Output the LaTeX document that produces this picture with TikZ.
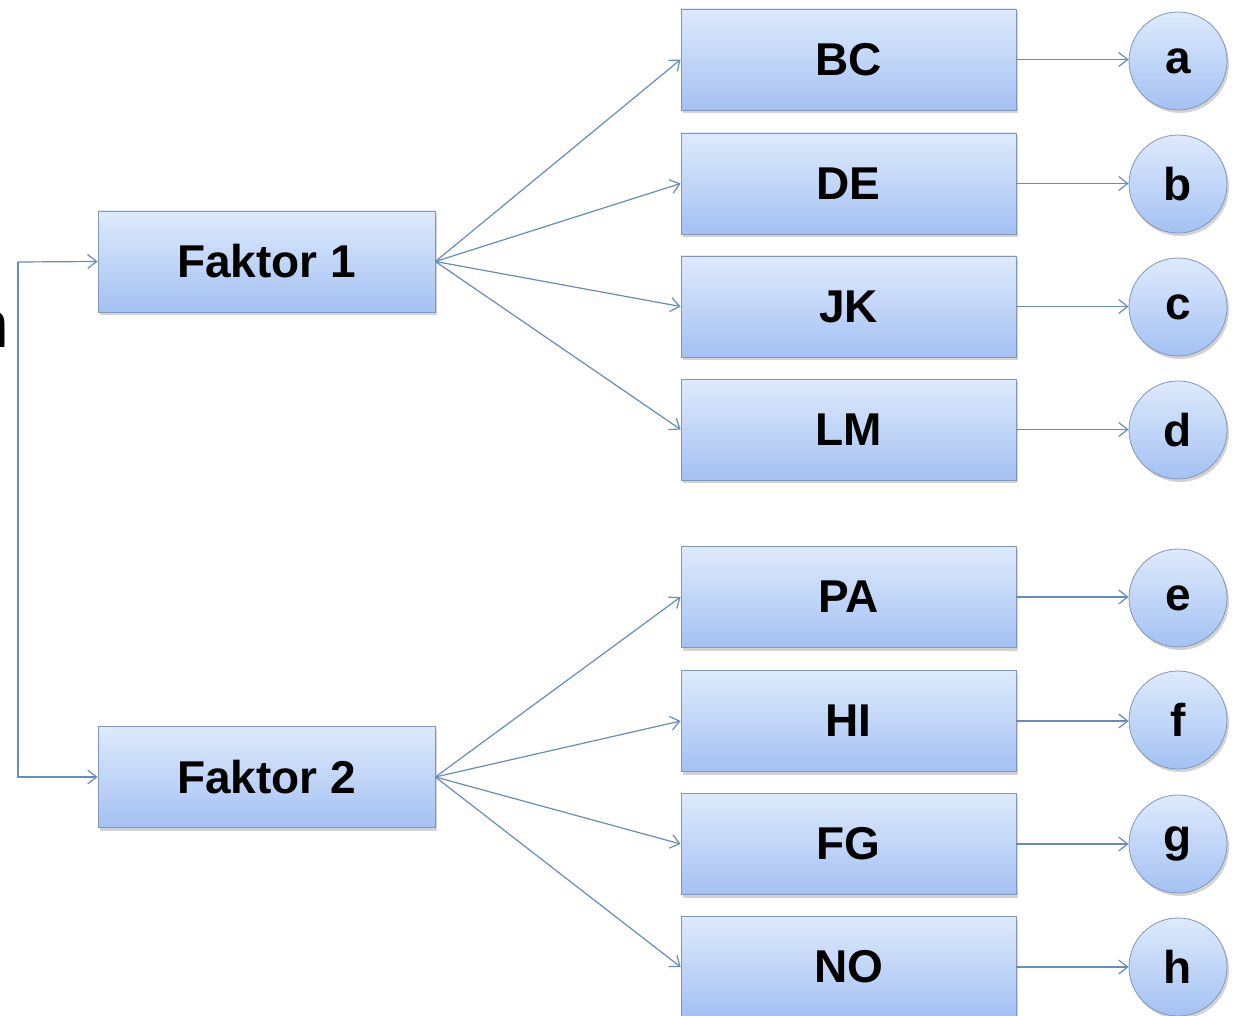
\documentclass[tikz,border=0pt]{standalone}
\usepackage{fontspec}
\setmainfont{Liberation Sans}
\usetikzlibrary{shadows,arrows.meta}
\definecolor{boxtop}{RGB}{222,234,252}
\definecolor{boxbot}{RGB}{164,193,243}
\definecolor{boxedge}{RGB}{130,150,185}
\definecolor{linkc}{RGB}{100,140,190}
\tikzset{
  every picture/.style={x=1pt,y=-1pt},
  fbox/.style={draw=boxedge, line width=0.8pt, top color=boxtop, bottom color=boxbot,
    minimum width=337pt, minimum height=101pt, inner sep=0pt,
    font=\fontsize{46}{46}\selectfont\bfseries,
    drop shadow={shadow xshift=2pt, shadow yshift=-3pt, opacity=0.35}},
  rbox/.style={fbox, minimum width=335pt},
  rcirc/.style={circle, draw=boxedge, line width=0.8pt, top color=boxtop, bottom color=boxbot,
    minimum size=98pt, inner sep=0pt, font=\fontsize{46}{46}\selectfont\bfseries,
    drop shadow={shadow xshift=2pt, shadow yshift=-3pt, opacity=0.35}},
  link/.style={draw=linkc, line width=1.2pt, -{Straight Barb[length=9pt,width=14pt,line width=1.2pt]}}
}
\begin{document}
\begin{tikzpicture}
\useasboundingbox (0,0) rectangle (1236,1016);
\node[font=\fontsize{66}{66}\selectfont, anchor=east, inner sep=0pt] (frag) at (9,330) {n};
\node[fbox] (f1) at (266.5,261.5) {Faktor 1};
\node[fbox] (f2) at (266.5,777) {Faktor 2};
\node[rbox] (bc) at (848.5,59.5) {BC};
\node[rbox] (de) at (848.5,183.5) {DE};
\node[rbox] (jk) at (848.5,306.5) {JK};
\node[rbox] (lm) at (848.5,429.5) {LM};
\node[rbox] (pa) at (848.5,597) {PA};
\node[rbox] (hi) at (848.5,721) {HI};
\node[rbox] (fg) at (848.5,844) {FG};
\node[rbox] (no) at (848.5,967) {NO};
\node[rcirc] (a) at (1178,61) {a};
\node[rcirc] (b) at (1178,184) {b};
\node[rcirc] (c) at (1178,307) {c};
\node[rcirc] (d) at (1178,430) {d};
\node[rcirc] (e) at (1178,598) {e};
\node[rcirc] (f) at (1178,720) {f};
\node[rcirc] (g) at (1178,844) {g};
\node[rcirc] (h) at (1178,967) {h};
\coordinate (sp) at (18,262);
\draw[link] (sp) -- (f1.west);
\draw[link] (sp) |- (f2.west);
\foreach \t in {bc,de,jk,lm}{\draw[link] (f1.east) -- (\t.west);}
\foreach \t in {pa,hi,fg,no}{\draw[link] (f2.east) -- (\t.west);}
\foreach \s/\t in {bc/a,de/b,jk/c,lm/d,pa/e,hi/f,fg/g,no/h}{\draw[link] (\s.east) -- (\s.east -| \t.west);}
\end{tikzpicture}
\end{document}
